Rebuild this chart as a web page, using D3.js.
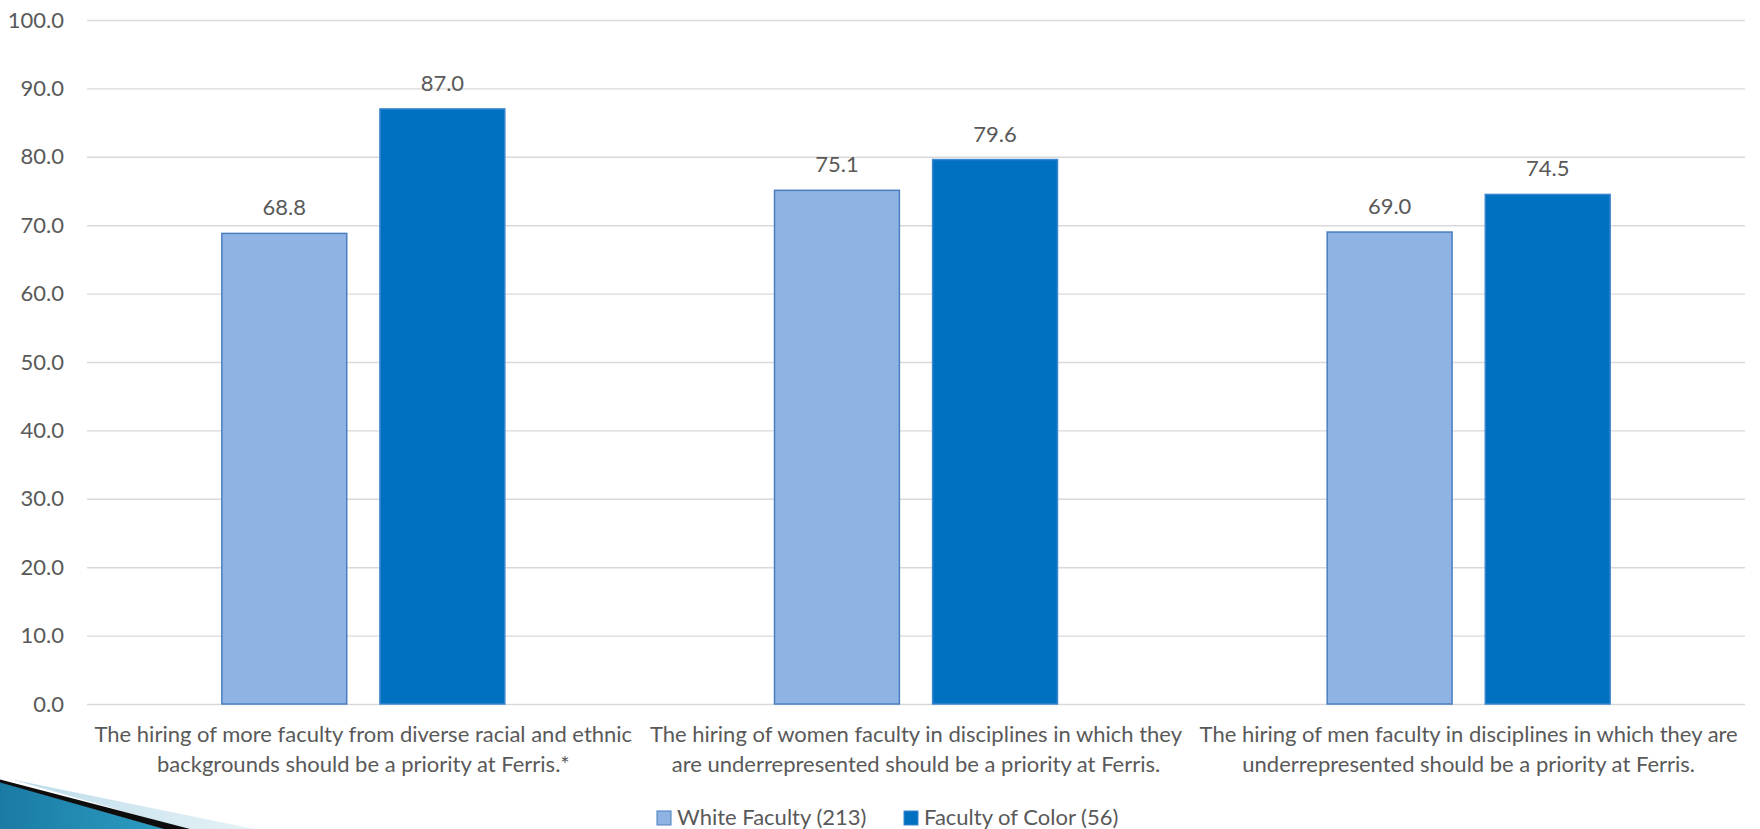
<!DOCTYPE html>
<html>
<head>
<meta charset="utf-8">
<script src="https://cdn.jsdelivr.net/npm/d3@7"></script>
<style>
  html, body { margin: 0; padding: 0; background: #ffffff; }
  svg { display: block; }
  text { font-family: Lato, "Open Sans", sans-serif; fill: #595959; }
</style>
</head>
<body>
<svg id="chart" width="1760" height="829"></svg>
<script>
// ---- data ----
const categories = [
  "The hiring of more faculty from diverse racial and ethnic backgrounds should be a priority at Ferris.*",
  "The hiring of women faculty in disciplines in which they are underrepresented should be a priority at Ferris.",
  "The hiring of men faculty in disciplines in which they are underrepresented should be a priority at Ferris."
];
const categoryLines = [
  ["The hiring of more faculty from diverse racial and ethnic", "backgrounds should be a priority at Ferris.*"],
  ["The hiring of women faculty in disciplines in which they", "are underrepresented should be a priority at Ferris."],
  ["The hiring of men faculty in disciplines in which they are", "underrepresented should be a priority at Ferris."]
];
const seriesNames = ["White Faculty (213)", "Faculty of Color (56)"];
const whiteFaculty = [68.8, 75.1, 69.0];
const facultyOfColor = [87.0, 79.6, 74.5];
const yTicks = [0, 10, 20, 30, 40, 50, 60, 70, 80, 90, 100];

// ---- layout ----
const svg = d3.select("#chart");
const plotLeft = 87, plotRight = 1745, plotTop = 20, plotBottom = 704;
const fontSize = 22;
const colors = { fill: ["#8FB3E2", "#0070C0"], stroke: ["#4A7EC0", "#3A86D0"] };

const seriesValues = [whiteFaculty, facultyOfColor];
const rows = categories.map((c, i) => ({ cat: c, vals: seriesNames.map((s, j) => ({ s, j, v: seriesValues[j][i] })) }));

const y = d3.scaleLinear().domain([0, 100]).range([plotBottom, plotTop]);
const x0 = d3.scaleBand().domain(categories).range([plotLeft, plotRight]).padding(0);
const x1 = d3.scaleBand().domain(seriesNames).range([0, x0.bandwidth()]).paddingInner(0.21).paddingOuter(0.853);

// bottom-left decoration
const defs = svg.append("defs");
const g1 = defs.append("linearGradient").attr("id", "teal").attr("x1", "0").attr("y1", "0").attr("x2", "1").attr("y2", "0");
g1.append("stop").attr("offset", "0").attr("stop-color", "#1A7AA3");
g1.append("stop").attr("offset", "1").attr("stop-color", "#2C9DC2");
const g2 = defs.append("linearGradient").attr("id", "pale").attr("x1", "0").attr("y1", "0").attr("x2", "1").attr("y2", "0");
g2.append("stop").attr("offset", "0").attr("stop-color", "#BCDCEA");
g2.append("stop").attr("offset", "1").attr("stop-color", "#E6F2F7");
const deco = svg.append("g").attr("class", "deco");
deco.append("polygon").attr("points", "10,779 254,829 186,829").attr("fill", "url(#pale)");
deco.append("polygon").attr("points", "0,782 165,829 0,829").attr("fill", "url(#teal)");
deco.append("polygon").attr("points", "0,779.5 190,829 164,829 0,782.5").attr("fill", "#0d0d0d");

// gridlines + y axis
const yAxis = d3.axisLeft(y).tickValues(yTicks).tickFormat(d3.format(".1f"))
  .tickSizeInner(-(plotRight - plotLeft)).tickSizeOuter(0).tickPadding(23);
const yg = svg.append("g").attr("transform", `translate(${plotLeft},0)`).call(yAxis);
yg.select(".domain").remove();
yg.selectAll(".tick line").attr("stroke", "#D9D9D9").attr("stroke-width", 1.4);
yg.selectAll(".tick text").style("font-size", fontSize + "px").attr("fill", "#595959")
  .style("font-family", "Lato, 'Open Sans', sans-serif");

// bars
const groups = svg.append("g").selectAll("g").data(rows).join("g")
  .attr("transform", d => `translate(${x0(d.cat)},0)`);
groups.selectAll("rect").data(d => d.vals).join("rect")
  .attr("x", d => x1(d.s)).attr("width", x1.bandwidth())
  .attr("y", d => y(d.v)).attr("height", d => y(0) - y(d.v))
  .attr("fill", d => colors.fill[d.j]).attr("stroke", d => colors.stroke[d.j]).attr("stroke-width", 1.5);
groups.selectAll("text.val").data(d => d.vals).join("text").attr("class", "val")
  .attr("x", d => x1(d.s) + x1.bandwidth() / 2).attr("y", d => y(d.v) - 18)
  .attr("text-anchor", "middle").style("font-size", fontSize + "px")
  .text(d => d3.format(".1f")(d.v));

// category labels
const cl = svg.append("g").selectAll("text").data(categories).join("text")
  .attr("x", d => x0(d) + x0.bandwidth() / 2).attr("y", 742)
  .attr("text-anchor", "middle").style("font-size", fontSize + "px");
cl.each(function (d, i) {
  const t = d3.select(this);
  categoryLines[i].forEach((ln, k) => {
    t.append("tspan").attr("x", x0(d) + x0.bandwidth() / 2).attr("dy", k === 0 ? 0 : 30).text(ln);
  });
});

// legend
const legendX = [657, 904];
const lg = svg.append("g").selectAll("g").data(seriesNames).join("g")
  .attr("transform", (d, i) => `translate(${legendX[i]},811)`);
lg.append("rect").attr("width", 14).attr("height", 14)
  .attr("fill", (d, i) => colors.fill[i]).attr("stroke", (d, i) => colors.stroke[i]).attr("stroke-width", 1);
lg.append("text").attr("x", 20).attr("y", 14).style("font-size", fontSize + "px").text(d => d);
</script>
</body>
</html>
